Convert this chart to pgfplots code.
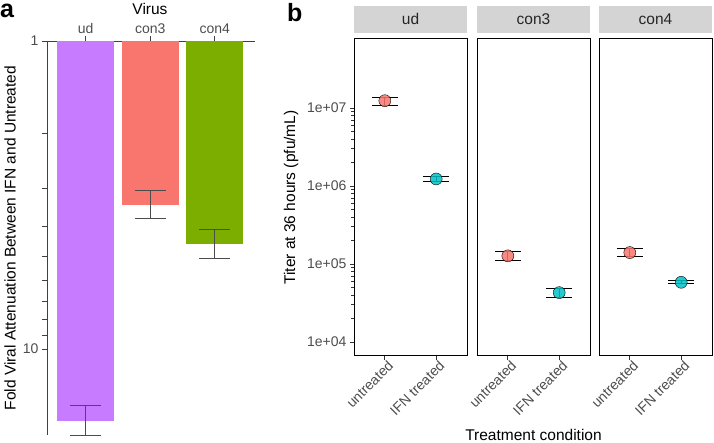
\documentclass[border=0pt]{standalone}
\usepackage{pgfplots}
\pgfplotsset{compat=1.18}
\usepackage{fontspec}
\setmainfont{Liberation Sans}
\definecolor{cud}{HTML}{C77CFF}
\definecolor{ccon3}{HTML}{F8766D}
\definecolor{ccon4}{HTML}{7CAE00}
\definecolor{cteal}{HTML}{00BFC4}
\definecolor{stripgray}{HTML}{D4D4D4}
\definecolor{gray30}{HTML}{4D4D4D}
\newcommand{\tickfont}{\fontsize{14}{16}\selectfont}
\newcommand{\titlefont}{\fontsize{15.5}{18}\selectfont}
\pgfplotsset{
  errb/.style={black, line width=1pt, unbounded coords=jump},
  ptu/.style={only marks, mark=*, mark size=6pt, mark options={draw=none, fill=ccon3, fill opacity=0.85}},
  pti/.style={only marks, mark=*, mark size=6pt, mark options={draw=none, fill=cteal, fill opacity=0.85}},
}
\begin{document}
\begin{tikzpicture}
\useasboundingbox (0,0) rectangle (714pt,443pt);

% ---------------- panel a ----------------
\begin{axis}[
  at={(47pt,8pt)}, anchor=south west,
  scale only axis, width=208pt, height=394pt,
  clip=false,
  ymode=log, y dir=reverse, ymin=1, ymax=19,
  xmin=-0.6, xmax=2.625,
  axis x line*=top, axis y line*=left,
  axis line style={black!75, line width=0.8pt},
  xtick={0,1,2}, xticklabels={ud,con3,con4},
  ytick={1,10}, yticklabels={1,10},
  minor ytick={2,3,4,5,6,7,8,9},
  tick align=outside, major tick length=5pt, minor tick length=5pt,
  tick style={black!75, line width=0.8pt},
  ticklabel style={font=\tickfont, text=gray30},
  xticklabel style={yshift=-1.5pt},
  /pgf/number format/assume math mode=true,
  xlabel={Virus},
  xlabel style={font=\titlefont, at={(axis description cs:0.495,1)}, anchor=base, yshift=26pt},
  ylabel={Fold Viral Attenuation Between IFN and Untreated},
  ylabel style={font=\titlefont, at={(axis description cs:0,0.5)}, anchor=center, yshift=37pt},
]
\addplot[ybar, bar width=57pt, bar shift=0pt, fill=cud, draw=none] coordinates {(0,17.1)};
\addplot[ybar, bar width=57pt, bar shift=0pt, fill=ccon3, draw=none] coordinates {(1,3.40)};
\addplot[ybar, bar width=57pt, bar shift=0pt, fill=ccon4, draw=none] coordinates {(2,4.57)};
\addplot[black!70, line width=0.8pt, unbounded coords=jump] coordinates {
 (0,15.2) (0,19.0) (nan,nan)
 (-0.24,15.2) (0.24,15.2) (nan,nan)
 (-0.24,19.0) (0.24,19.0) (nan,nan)
 (1,3.05) (1,3.76) (nan,nan)
 (0.76,3.05) (1.24,3.05) (nan,nan)
 (0.76,3.76) (1.24,3.76) (nan,nan)
 (2,4.10) (2,5.07) (nan,nan)
 (1.76,4.10) (2.24,4.10) (nan,nan)
 (1.76,5.07) (2.24,5.07)
};
\end{axis}

% ---------------- panel b: ud ----------------
\begin{axis}[at={(354pt,87pt)}, anchor=south west,
  scale only axis, width=113pt, height=317pt, clip=false,
  ymode=log, ymin=6607, ymax=7.67e7, xmin=0.4, xmax=2.6,
  xtick={1,2}, xticklabels={untreated,IFN treated},
  xtick pos=left, ytick pos=left,
  tick align=outside, major tick length=4pt,
  axis line style={black, line width=1pt},
  tick style={black!80, line width=0.8pt},
  ticklabel style={font=\tickfont, text=gray30},
  xticklabel style={rotate=45, anchor=north east, inner sep=1pt, xshift=3pt},
  /pgf/number format/assume math mode=true,
  title={ud},
  title style={at={(0.5,1)}, anchor=south, yshift=0pt, fill=stripgray,
    minimum width=113pt, minimum height=27pt, inner sep=0pt,
    font=\titlefont, text=black!85},
  ytick={1e4,1e5,1e6,1e7}, yticklabels={1e+04,1e+05,1e+06,1e+07},
  ylabel={Titer at 36 hours (pfu/mL)},
  ylabel style={font=\titlefont, at={(axis description cs:0,0.5)}, anchor=center, yshift=63pt}]
\addplot[ptu] coordinates {(1,1.24e7)};
\addplot[pti] coordinates {(2,1.23e6)};
\addplot[errb] coordinates {
 (1,1.09e7) (1,1.38e7) (nan,nan)
 (0.75,1.09e7) (1.25,1.09e7) (nan,nan)
 (0.75,1.38e7) (1.25,1.38e7) (nan,nan)
 (2,1.14e6) (2,1.34e6) (nan,nan)
 (1.75,1.14e6) (2.25,1.14e6) (nan,nan)
 (1.75,1.34e6) (2.25,1.34e6)
};
\end{axis}

% ---------------- panel b: con3 ----------------
\begin{axis}[at={(477pt,87pt)}, anchor=south west,
  scale only axis, width=113pt, height=317pt, clip=false,
  ymode=log, ymin=6607, ymax=7.67e7, xmin=0.4, xmax=2.6,
  xtick={1,2}, xticklabels={untreated,IFN treated},
  xtick pos=left, ytick pos=left,
  tick align=outside, major tick length=4pt,
  axis line style={black, line width=1pt},
  tick style={black!80, line width=0.8pt},
  ticklabel style={font=\tickfont, text=gray30},
  xticklabel style={rotate=45, anchor=north east, inner sep=1pt, xshift=3pt},
  /pgf/number format/assume math mode=true,
  title={con3},
  title style={at={(0.5,1)}, anchor=south, yshift=0pt, fill=stripgray,
    minimum width=113pt, minimum height=27pt, inner sep=0pt,
    font=\titlefont, text=black!85},
  ytick=\empty,
  xlabel={Treatment condition},
  xlabel style={font=\titlefont, at={(axis description cs:0.5,0)}, anchor=base, yshift=-84.3pt}]
\addplot[ptu] coordinates {(1,1.27e5)};
\addplot[pti] coordinates {(2,4.29e4)};
\addplot[errb] coordinates {
 (1,1.11e5) (1,1.44e5) (nan,nan)
 (0.75,1.11e5) (1.25,1.11e5) (nan,nan)
 (0.75,1.44e5) (1.25,1.44e5) (nan,nan)
 (2,3.74e4) (2,4.78e4) (nan,nan)
 (1.75,3.74e4) (2.25,3.74e4) (nan,nan)
 (1.75,4.78e4) (2.25,4.78e4)
};
\end{axis}

% ---------------- panel b: con4 ----------------
\begin{axis}[at={(599pt,87pt)}, anchor=south west,
  scale only axis, width=113pt, height=317pt, clip=false,
  ymode=log, ymin=6607, ymax=7.67e7, xmin=0.4, xmax=2.6,
  xtick={1,2}, xticklabels={untreated,IFN treated},
  xtick pos=left, ytick pos=left,
  tick align=outside, major tick length=4pt,
  axis line style={black, line width=1pt},
  tick style={black!80, line width=0.8pt},
  ticklabel style={font=\tickfont, text=gray30},
  xticklabel style={rotate=45, anchor=north east, inner sep=1pt, xshift=3pt},
  /pgf/number format/assume math mode=true,
  title={con4},
  title style={at={(0.5,1)}, anchor=south, yshift=0pt, fill=stripgray,
    minimum width=113pt, minimum height=27pt, inner sep=0pt,
    font=\titlefont, text=black!85},
  ytick=\empty]
\addplot[ptu] coordinates {(1,1.40e5)};
\addplot[pti] coordinates {(2,5.82e4)};
\addplot[errb] coordinates {
 (1,1.23e5) (1,1.57e5) (nan,nan)
 (0.75,1.23e5) (1.25,1.23e5) (nan,nan)
 (0.75,1.57e5) (1.25,1.57e5) (nan,nan)
 (2,5.55e4) (2,6.17e4) (nan,nan)
 (1.75,5.55e4) (2.25,5.55e4) (nan,nan)
 (1.75,6.17e4) (2.25,6.17e4)
};
\end{axis}

\node[anchor=base west, font=\bfseries\fontsize{25}{25}\selectfont, inner sep=0pt] at (0pt,425pt) {a};
\node[anchor=base west, font=\bfseries\fontsize{25}{25}\selectfont, inner sep=0pt] at (287pt,421pt) {b};
\end{tikzpicture}
\end{document}
